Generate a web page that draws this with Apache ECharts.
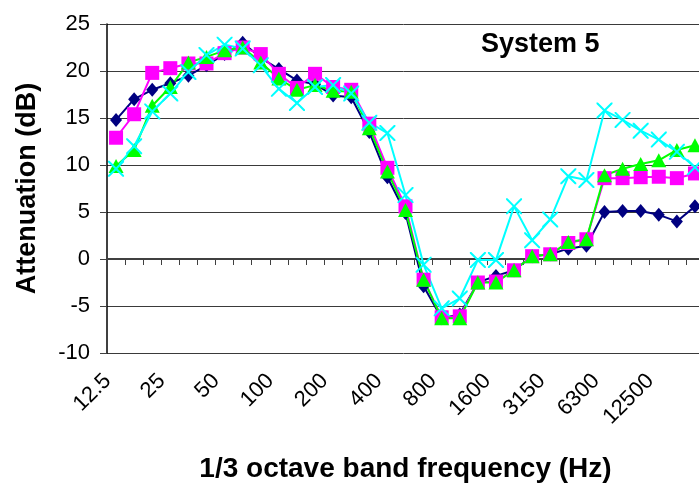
<!DOCTYPE html>
<html>
<head>
<meta charset="utf-8">
<script src="https://cdn.jsdelivr.net/npm/echarts@6/dist/echarts.min.js"></script>
<style>
html,body{margin:0;padding:0;background:#fff;}
#chart{width:699px;height:486px;}
</style>
</head>
<body>
<div id="chart"></div>
<script>
var categories = ['12.5','16','20','25','31.5','40','50','63','80','100','125','160','200','250','315','400','500','630','800','1000','1250','1600','2000','2500','3150','4000','5000','6300','8000','10000','12500','16000','20000'];
var seriesNavy = [14.8, 17.0, 18.0, 18.7, 19.5, 20.6, 21.8, 23.0, 21.4, 20.2, 19.0, 18.6, 17.4, 17.2, 13.5, 8.7, 4.9, -2.9, -6.3, -5.9, -2.5, -1.8, -1.2, 0.3, 0.5, 1.1, 1.4, 5.0, 5.1, 5.1, 4.7, 4.0, 5.6];
var seriesMagenta = [12.9, 15.4, 19.8, 20.3, 20.8, 20.8, 21.9, 22.5, 21.8, 19.7, 18.2, 19.7, 18.3, 18.0, 14.4, 9.7, 5.6, -2.2, -6.2, -6.1, -2.5, -2.4, -1.2, 0.3, 0.5, 1.7, 2.1, 8.6, 8.6, 8.7, 8.75, 8.6, 9.1];
var seriesGreen = [9.9, 11.6, 16.3, 18.3, 20.9, 21.5, 22.2, 22.5, 20.9, 19.2, 18.0, 18.5, 17.9, 17.8, 13.9, 9.3, 5.2, -2.2, -6.3, -6.3, -2.5, -2.5, -1.2, 0.3, 0.5, 1.8, 2.1, 8.9, 9.6, 10.1, 10.5, 11.6, 12.1];
var seriesCyan = [9.6, 12.0, 15.7, 17.6, 19.9, 21.7, 22.8, 22.4, 20.6, 18.1, 16.6, 18.3, 18.5, 17.6, 14.5, 13.4, 6.8, -0.6, -5.25, -4.2, -0.1, -0.1, 5.6, 2.0, 4.2, 8.8, 8.4, 15.8, 14.8, 13.65, 12.7, 11.4, 9.75];
var yTicks = {min: -10, max: 25, interval: 5};
var titleText = 'System 5';
var xName = '1/3 octave band frequency (Hz)';
var yName = 'Attenuation (dB)';

var xPath = 'path://M0,0 L1.8,0 L10,8.2 L18.2,0 L20,0 L20,1.8 L11.8,10 L20,18.2 L20,20 L18.2,20 L10,11.8 L1.8,20 L0,20 L0,18.2 L8.2,10 L0,1.8 Z';
var font = 'Liberation Sans, Arial, sans-serif';

function mk(name, data, color, symbol, size) {
  return {
    name: name, type: 'line', data: data,
    symbol: symbol, symbolSize: size, showAllSymbol: true,
    lineStyle: {color: color, width: 2},
    itemStyle: {color: color, borderWidth: 0},
    emphasis: {disabled: true},
    z: 2
  };
}

var chart = echarts.init(document.getElementById('chart'), null, {renderer: 'canvas'});
chart.setOption({
  animation: false,
  backgroundColor: '#ffffff',
  graphic: [{
    type: 'text', left: 481, top: 31,
    style: {text: titleText, font: 'bold 27px ' + font, fill: '#000'}
  }],
  grid: {left: 107, top: 24, width: 597, height: 329, containLabel: false, outerBoundsMode: 'none'},
  xAxis: {
    type: 'category', data: categories, boundaryGap: true,
    name: xName, nameLocation: 'middle', nameGap: 102,
    nameTextStyle: {fontFamily: font, fontWeight: 'bold', fontSize: 28, color: '#000'},
    axisLine: {show: true, lineStyle: {color: '#404040', width: 2}},
    axisTick: {show: true, interval: 0, length: 6, lineStyle: {color: '#404040', width: 1}},
    axisLabel: {interval: 2, rotate: 45, fontSize: 22, fontFamily: font, color: '#000', margin: 16, padding: [0, 12, 0, 0]},
    splitLine: {show: false}
  },
  yAxis: {
    type: 'value', min: yTicks.min, max: yTicks.max, interval: yTicks.interval,
    name: yName, nameLocation: 'middle', nameGap: 66, nameRotate: 90,
    nameTextStyle: {fontFamily: font, fontWeight: 'bold', fontSize: 27, color: '#000'},
    axisLine: {show: true, lineStyle: {color: '#000', width: 1.5}},
    axisTick: {show: true, length: 7, lineStyle: {color: '#404040'}},
    axisLabel: {fontSize: 22, fontFamily: font, color: '#000', margin: 17},
    splitLine: {show: true, lineStyle: {color: '#3a3a3a', width: 1}}
  },
  series: [
    mk('navy', seriesNavy, '#000080', 'diamond', [12, 14]),
    mk('magenta', seriesMagenta, '#ff00ff', 'rect', 14),
    mk('green', seriesGreen, '#00ff00', 'triangle', [15, 14]),
    mk('cyan', seriesCyan, '#00ffff', xPath, 16)
  ]
});
</script>
</body>
</html>
